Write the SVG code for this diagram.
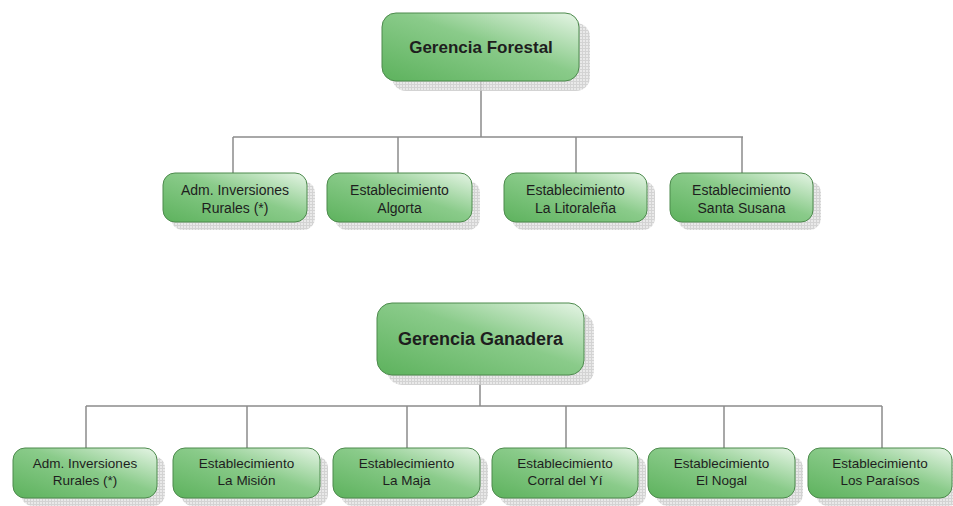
<svg xmlns="http://www.w3.org/2000/svg" width="953" height="506" viewBox="0 0 953 506">
<defs>
<linearGradient id="g" x1="0" y1="1" x2="1" y2="0">
<stop offset="0" stop-color="#5db25d"/>
<stop offset="0.55" stop-color="#8acb8a"/>
<stop offset="1" stop-color="#e6f5e6"/>
</linearGradient>
<pattern id="hatch" width="3" height="3" patternUnits="userSpaceOnUse">
<rect width="3" height="3" fill="#e4e4e4"/>
<rect width="1" height="3" fill="#c8c8c8"/>
<rect width="3" height="1" fill="#c8c8c8"/>
</pattern>
<style>
.box{fill:url(#g);stroke:#4d8a4d;stroke-width:1}
.shadow{fill:url(#hatch);opacity:0.8}
.conn{stroke:#8c8c8c;stroke-width:1.5;fill:none}
.t{font-family:"Liberation Sans",Arial,sans-serif;fill:#1e1e1e;text-anchor:middle}
.head{font-size:17px;font-weight:bold}
.s1{font-size:14px}
.s2{font-size:13.5px}
</style>
</defs>
<rect width="953" height="506" fill="#ffffff"/>

<g id="connectors">
<path class="conn" d="M481 81 V137 M233 137 H743 M233 137 V173 M398 137 V173 M576 137 V173 M742 137 V173"/>
<path class="conn" d="M480 375 V406 M86 406 H882 M86 406 V448 M247 406 V448 M407 406 V448 M566 406 V448 M724 406 V448 M882 406 V448"/>
</g>

<g id="gerencia-forestal">
<rect class="shadow" x="392" y="23" width="198" height="68" rx="14"/>
<rect class="box" x="382" y="13" width="197" height="68" rx="14"/>
<text class="t head" x="481" y="53">Gerencia Forestal</text>
</g>

<g id="adm-inversiones-1">
<rect class="shadow" x="171" y="181" width="144" height="49" rx="12"/>
<rect class="box" x="163" y="173" width="144" height="49" rx="12"/>
<text class="t s1" x="235" y="195">Adm. Inversiones</text>
<text class="t s1" x="235" y="213">Rurales (*)</text>
</g>
<g id="algorta">
<rect class="shadow" x="335" y="181" width="145" height="49" rx="12"/>
<rect class="box" x="327" y="173" width="145" height="49" rx="12"/>
<text class="t s1" x="399.5" y="195">Establecimiento</text>
<text class="t s1" x="399.5" y="213">Algorta</text>
</g>
<g id="la-litoralena">
<rect class="shadow" x="512" y="181" width="143" height="49" rx="12"/>
<rect class="box" x="504" y="173" width="143" height="49" rx="12"/>
<text class="t s1" x="575.5" y="195">Establecimiento</text>
<text class="t s1" x="575.5" y="213">La Litoraleña</text>
</g>
<g id="santa-susana">
<rect class="shadow" x="678" y="181" width="143" height="49" rx="12"/>
<rect class="box" x="670" y="173" width="143" height="49" rx="12"/>
<text class="t s1" x="741.5" y="195">Establecimiento</text>
<text class="t s1" x="741.5" y="213">Santa Susana</text>
</g>

<g id="gerencia-ganadera">
<rect class="shadow" x="387" y="313" width="207" height="72" rx="15"/>
<rect class="box" x="377" y="303" width="207" height="72" rx="15"/>
<text class="t head" x="480.5" y="345" style="font-size:18px">Gerencia Ganadera</text>
</g>

<g id="adm-inversiones-2">
<rect class="shadow" x="21" y="456" width="144" height="50" rx="12"/>
<rect class="box" x="13" y="448" width="144" height="50" rx="12"/>
<text class="t s2" x="85" y="468">Adm. Inversiones</text>
<text class="t s2" x="85" y="485">Rurales (*)</text>
</g>
<g id="la-mision">
<rect class="shadow" x="181" y="456" width="147" height="50" rx="12"/>
<rect class="box" x="173" y="448" width="147" height="50" rx="12"/>
<text class="t s2" x="246.5" y="468">Establecimiento</text>
<text class="t s2" x="246.5" y="485">La Misión</text>
</g>
<g id="la-maja">
<rect class="shadow" x="341" y="456" width="147" height="50" rx="12"/>
<rect class="box" x="333" y="448" width="147" height="50" rx="12"/>
<text class="t s2" x="406.5" y="468">Establecimiento</text>
<text class="t s2" x="406.5" y="485">La Maja</text>
</g>
<g id="corral-del-yi">
<rect class="shadow" x="500" y="456" width="146" height="50" rx="12"/>
<rect class="box" x="492" y="448" width="146" height="50" rx="12"/>
<text class="t s2" x="565" y="468">Establecimiento</text>
<text class="t s2" x="565" y="485">Corral del Yí</text>
</g>
<g id="el-nogal">
<rect class="shadow" x="656" y="456" width="147" height="50" rx="12"/>
<rect class="box" x="648" y="448" width="147" height="50" rx="12"/>
<text class="t s2" x="721.5" y="468">Establecimiento</text>
<text class="t s2" x="721.5" y="485">El Nogal</text>
</g>
<g id="los-paraisos">
<rect class="shadow" x="816" y="456" width="144" height="50" rx="12"/>
<rect class="box" x="808" y="448" width="144" height="50" rx="12"/>
<text class="t s2" x="880" y="468">Establecimiento</text>
<text class="t s2" x="880" y="485">Los Paraísos</text>
</g>
</svg>
